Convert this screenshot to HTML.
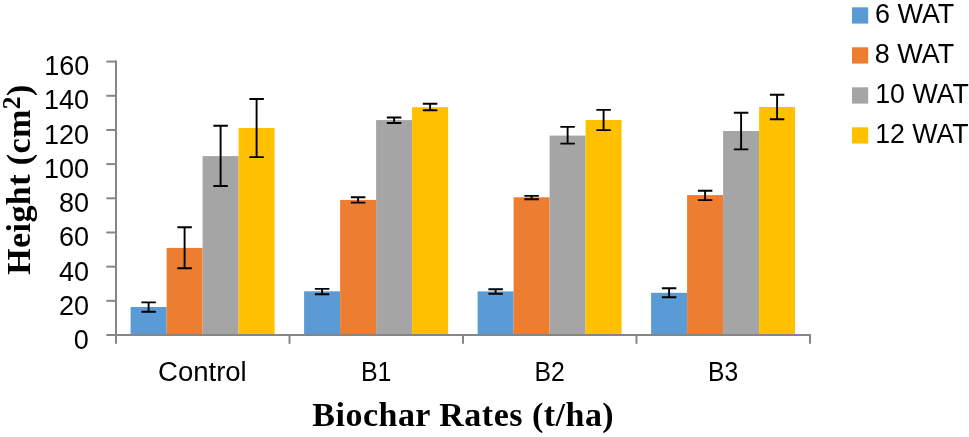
<!DOCTYPE html>
<html><head><meta charset="utf-8"><style>
html,body{margin:0;padding:0;background:#fff;}
body{width:969px;height:437px;overflow:hidden;font-family:"Liberation Sans",sans-serif;}
svg{display:block;will-change:transform;}
</style></head><body>
<svg width="969" height="437" viewBox="0 0 969 437">
<rect x="130.60" y="307.00" width="36.00" height="28.00" fill="#5B9BD5"/>
<rect x="166.60" y="247.90" width="36.00" height="87.10" fill="#ED7D31"/>
<rect x="202.60" y="156.10" width="36.00" height="178.90" fill="#A5A5A5"/>
<rect x="238.60" y="128.00" width="36.00" height="207.00" fill="#FFC000"/>
<rect x="304.10" y="291.30" width="36.00" height="43.70" fill="#5B9BD5"/>
<rect x="340.10" y="199.90" width="36.00" height="135.10" fill="#ED7D31"/>
<rect x="376.10" y="120.10" width="36.00" height="214.90" fill="#A5A5A5"/>
<rect x="412.10" y="107.20" width="36.00" height="227.80" fill="#FFC000"/>
<rect x="477.60" y="291.40" width="36.00" height="43.60" fill="#5B9BD5"/>
<rect x="513.60" y="197.30" width="36.00" height="137.70" fill="#ED7D31"/>
<rect x="549.60" y="135.60" width="36.00" height="199.40" fill="#A5A5A5"/>
<rect x="585.60" y="120.00" width="36.00" height="215.00" fill="#FFC000"/>
<rect x="651.10" y="292.80" width="36.00" height="42.20" fill="#5B9BD5"/>
<rect x="687.10" y="195.10" width="36.00" height="139.90" fill="#ED7D31"/>
<rect x="723.10" y="131.00" width="36.00" height="204.00" fill="#A5A5A5"/>
<rect x="759.10" y="107.00" width="36.00" height="228.00" fill="#FFC000"/>
<g stroke="#868686" stroke-width="2" fill="none">
<line x1="116" y1="60.6" x2="116" y2="335.00"/>
<line x1="115" y1="335.00" x2="811" y2="335.00"/>
<line x1="106.3" y1="335.00" x2="116" y2="335.00"/>
<line x1="106.3" y1="300.82" x2="116" y2="300.82"/>
<line x1="106.3" y1="266.65" x2="116" y2="266.65"/>
<line x1="106.3" y1="232.48" x2="116" y2="232.48"/>
<line x1="106.3" y1="198.30" x2="116" y2="198.30"/>
<line x1="106.3" y1="164.12" x2="116" y2="164.12"/>
<line x1="106.3" y1="129.95" x2="116" y2="129.95"/>
<line x1="106.3" y1="95.78" x2="116" y2="95.78"/>
<line x1="106.3" y1="61.60" x2="116" y2="61.60"/>
<line x1="116.00" y1="335.00" x2="116.00" y2="343.8"/>
<line x1="289.50" y1="335.00" x2="289.50" y2="343.8"/>
<line x1="463.00" y1="335.00" x2="463.00" y2="343.8"/>
<line x1="636.50" y1="335.00" x2="636.50" y2="343.8"/>
<line x1="810.00" y1="335.00" x2="810.00" y2="343.8"/>
</g>
<g stroke="#000" stroke-width="1.9" fill="none">
<path d="M148.60 302.40V311.70M141.35 302.40H155.85M141.35 311.70H155.85"/>
<path d="M184.60 227.30V268.30M177.35 227.30H191.85M177.35 268.30H191.85"/>
<path d="M220.60 125.70V186.00M213.35 125.70H227.85M213.35 186.00H227.85"/>
<path d="M256.60 99.05V157.10M249.35 99.05H263.85M249.35 157.10H263.85"/>
<path d="M322.10 288.90V294.20M314.85 288.90H329.35M314.85 294.20H329.35"/>
<path d="M358.10 197.30V202.60M350.85 197.30H365.35M350.85 202.60H365.35"/>
<path d="M394.10 117.50V123.00M386.85 117.50H401.35M386.85 123.00H401.35"/>
<path d="M430.10 103.80V110.30M422.85 103.80H437.35M422.85 110.30H437.35"/>
<path d="M495.60 289.30V293.80M488.35 289.30H502.85M488.35 293.80H502.85"/>
<path d="M531.60 195.85V199.20M524.35 195.85H538.85M524.35 199.20H538.85"/>
<path d="M567.60 126.90V143.60M560.35 126.90H574.85M560.35 143.60H574.85"/>
<path d="M603.60 109.90V130.10M596.35 109.90H610.85M596.35 130.10H610.85"/>
<path d="M669.10 288.30V297.30M661.85 288.30H676.35M661.85 297.30H676.35"/>
<path d="M705.10 190.70V200.10M697.85 190.70H712.35M697.85 200.10H712.35"/>
<path d="M741.10 112.80V149.40M733.85 112.80H748.35M733.85 149.40H748.35"/>
<path d="M777.10 94.80V119.30M769.85 94.80H784.35M769.85 119.30H784.35"/>
</g>
<rect x="852" y="7.30" width="16.2" height="16.3" fill="#5B9BD5"/>
<rect x="852" y="47.30" width="16.2" height="16.3" fill="#ED7D31"/>
<rect x="852" y="87.30" width="16.2" height="16.3" fill="#A5A5A5"/>
<rect x="852" y="127.30" width="16.2" height="16.3" fill="#FFC000"/>
<text x="88.68" y="349.00" font-family="'Liberation Sans', sans-serif" font-size="27" text-anchor="end">0</text>
<text x="89.14" y="315.00" font-family="'Liberation Sans', sans-serif" font-size="27" text-anchor="end">20</text>
<text x="89.00" y="281.00" font-family="'Liberation Sans', sans-serif" font-size="27" text-anchor="end">40</text>
<text x="89.00" y="246.00" font-family="'Liberation Sans', sans-serif" font-size="27" text-anchor="end">60</text>
<text x="89.00" y="212.00" font-family="'Liberation Sans', sans-serif" font-size="27" text-anchor="end">80</text>
<text x="89.00" y="178.00" font-family="'Liberation Sans', sans-serif" font-size="27" text-anchor="end">100</text>
<text x="89.00" y="144.00" font-family="'Liberation Sans', sans-serif" font-size="27" text-anchor="end">120</text>
<text x="89.00" y="109.00" font-family="'Liberation Sans', sans-serif" font-size="27" text-anchor="end">140</text>
<text x="89.23" y="75.00" font-family="'Liberation Sans', sans-serif" font-size="27" text-anchor="end">160</text>
<text x="202.41" y="381.00" font-family="'Liberation Sans', sans-serif" font-size="27" text-anchor="middle" textLength="88.67" lengthAdjust="spacingAndGlyphs">Control</text>
<text x="376.24" y="381.00" font-family="'Liberation Sans', sans-serif" font-size="27" text-anchor="middle" textLength="30.57" lengthAdjust="spacingAndGlyphs">B1</text>
<text x="549.61" y="381.00" font-family="'Liberation Sans', sans-serif" font-size="27" text-anchor="middle" textLength="30.31" lengthAdjust="spacingAndGlyphs">B2</text>
<text x="723.15" y="381.00" font-family="'Liberation Sans', sans-serif" font-size="27" text-anchor="middle" textLength="30.14" lengthAdjust="spacingAndGlyphs">B3</text>
<text x="874.97" y="23.00" font-family="'Liberation Sans', sans-serif" font-size="27" text-anchor="start" textLength="79.37" lengthAdjust="spacingAndGlyphs">6 WAT</text>
<text x="874.71" y="63.00" font-family="'Liberation Sans', sans-serif" font-size="27" text-anchor="start" textLength="79.42" lengthAdjust="spacingAndGlyphs">8 WAT</text>
<text x="875.23" y="103.00" font-family="'Liberation Sans', sans-serif" font-size="27" text-anchor="start" textLength="93.72" lengthAdjust="spacingAndGlyphs">10 WAT</text>
<text x="875.21" y="143.00" font-family="'Liberation Sans', sans-serif" font-size="27" text-anchor="start" textLength="93.42" lengthAdjust="spacingAndGlyphs">12 WAT</text>
<text x="463.01" y="425.80" font-family="'Liberation Serif', serif" font-size="34" font-weight="bold" text-anchor="middle" textLength="301.38" lengthAdjust="spacing">Biochar Rates (t/ha)</text>
<text x="0.00" y="0.00" font-family="'Liberation Serif', serif" font-size="34" font-weight="bold" text-anchor="middle" textLength="190.19" lengthAdjust="spacing" transform="translate(30,179.75) rotate(-90)">Height (cm<tspan font-size="25.5" dy="-9.6">2</tspan><tspan dy="9.6">)</tspan></text>
</svg>
</body></html>
